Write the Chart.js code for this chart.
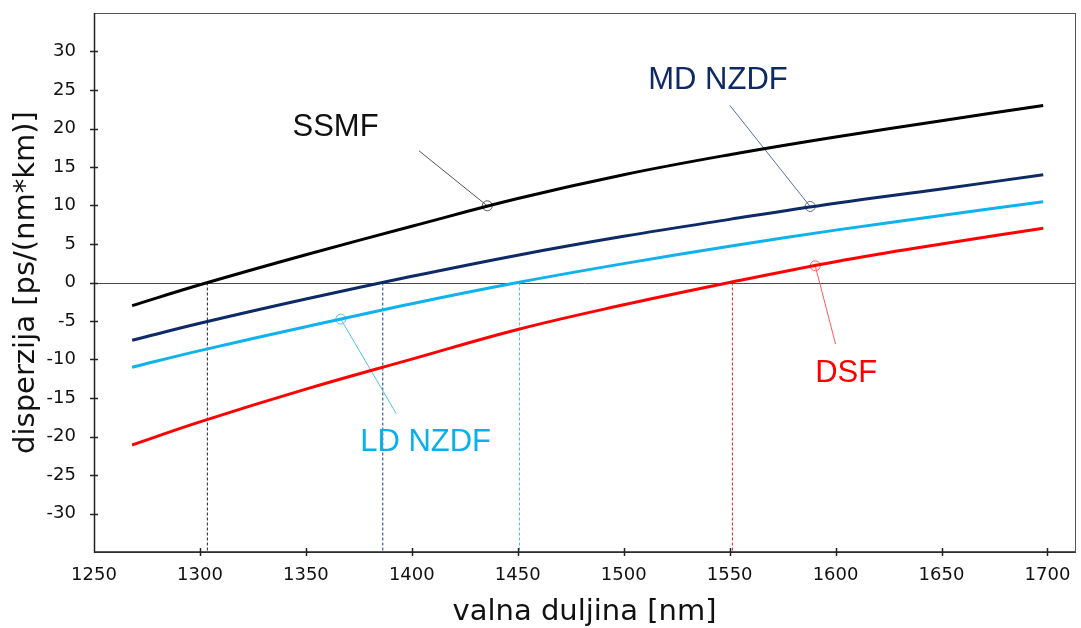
<!DOCTYPE html>
<html>
<head>
<meta charset="utf-8">
<script src="https://cdn.jsdelivr.net/npm/chart.js@4/dist/chart.umd.min.js"></script>
<style>
  html, body { margin: 0; padding: 0; background: #fff; }
  #wrap { width: 1081px; height: 628px; }
</style>
</head>
<body>
<div id="wrap"><canvas id="disp"></canvas></div>
<script>
// values (nm, ps/(nm*km))
const wavelength = [1268, 1300, 1350, 1400, 1450, 1500, 1550, 1600, 1650, 1698];
const ssmf   = [-3.0, -0.3, 3.6, 7.3, 10.9, 14.0, 16.6, 18.9, 21.0, 23.0];
const mdNzdf = [-7.5, -5.3, -2.15, 0.8, 3.55, 6.0, 8.2, 10.3, 12.15, 14.0];
const ldNzdf = [-11.0, -8.85, -5.75, -2.75, 0.0, 2.45, 4.7, 6.8, 8.7, 10.5];
const dsf    = [-21.1, -18.1, -13.85, -9.95, -6.1, -2.9, 0.0, 2.7, 5.0, 7.05];

const seriesNames = ["SSMF", "MD NZDF", "LD NZDF", "DSF"];
const zeroCross = [1303.5, 1386.3, 1450.8, 1551.3];

// marked points on each curve and where the callout labels sit
const markX = [1435.6, 1588, 1366.5, 1590.4];
const markY = [9.96, 9.87, -4.76, 2.17];
const leadX = [1403.4, 1550.1, 1392.7, 1600];
const leadY = [17.1, 23.0, -17.05, -8.0];
const labelX = [1364, 1544.5, 1406.5, 1605];
const labelY = [20.2, 26.3, -20.75, -11.8];

const xTicks = [1250, 1300, 1350, 1400, 1450, 1500, 1550, 1600, 1650, 1700];
const yTicks = [-30, -25, -20, -15, -10, -5, 0, 5, 10, 15, 20, 25, 30];

const lineColors = ["#000000", "#0d2a66", "#0fb2ec", "#ff0000"];
const textColors = ["#111111", "#0d2a66", "#0ab0ee", "#ff0000"];
const leaderColors = ["#555555", "#5a6d98", "#4cc3ef", "#ff5a5a"];
const dashColors = ["#222222", "#1a3a80", "#45c0f0", "#d82626"];

const curves = [ssmf, mdNzdf, ldNzdf, dsf];
const datasets = [];

curves.forEach((vals, i) => {
  datasets.push({
    label: seriesNames[i],
    data: wavelength.map((w, k) => ({ x: w, y: vals[k] })),
    borderColor: lineColors[i],
    borderWidth: 3,
    pointRadius: 0,
    tension: 0.4,
    order: 0
  });
});

// dashed drop lines from the zero crossings
zeroCross.forEach((w, i) => {
  datasets.push({
    data: [{ x: w, y: 0 }, { x: w, y: -35 }],
    borderColor: dashColors[i],
    borderWidth: 1,
    borderDash: [3, 2],
    pointRadius: 0,
    order: 2
  });
});

// callout leader lines and the open circles
markX.forEach((w, i) => {
  datasets.push({
    data: [{ x: leadX[i], y: leadY[i] }, { x: w, y: markY[i] }],
    borderColor: leaderColors[i],
    borderWidth: 1,
    pointRadius: [0, 5],
    pointBorderColor: leaderColors[i],
    pointBackgroundColor: "rgba(0,0,0,0)",
    pointBorderWidth: 1,
    order: 1
  });
});

const framePlugin = {
  id: "frame",
  beforeDatasetsDraw(chart) {
    const { ctx, chartArea: a, scales } = chart;
    const y0 = scales.y.getPixelForValue(0);
    ctx.save();
    ctx.strokeStyle = "#4a4a4a";
    ctx.lineWidth = 1;
    ctx.beginPath();
    ctx.moveTo(a.left, Math.round(y0) + 0.5);
    ctx.lineTo(a.right, Math.round(y0) + 0.5);
    ctx.stroke();
    ctx.restore();
  },
  afterDraw(chart) {
    const { ctx, chartArea: a, scales } = chart;
    ctx.save();
    ctx.strokeStyle = "#555";
    ctx.lineWidth = 1;
    ctx.strokeRect(Math.round(a.left) + 0.5, Math.round(a.top) + 0.5,
      Math.round(a.right - a.left), Math.round(a.bottom - a.top));
    ctx.strokeStyle = "#222";
    ctx.lineWidth = 1.5;
    ctx.beginPath();
    ctx.moveTo(a.left + 0.5, a.top);
    ctx.lineTo(a.left + 0.5, a.bottom);
    ctx.lineTo(a.right, a.bottom);
    ctx.stroke();
    yTicks.forEach(v => {
      const py = Math.round(scales.y.getPixelForValue(v)) + 0.5;
      ctx.beginPath();
      ctx.moveTo(a.left - 4, py);
      ctx.lineTo(a.left + 4, py);
      ctx.stroke();
    });
    xTicks.forEach(v => {
      if (v === xTicks[0]) return;
      const px = Math.round(scales.x.getPixelForValue(v)) + 0.5;
      ctx.beginPath();
      ctx.moveTo(px, a.bottom - 4);
      ctx.lineTo(px, a.bottom + 4);
      ctx.stroke();
    });
    // callout labels
    ctx.font = "31px 'Liberation Sans', Arial, sans-serif";
    ctx.textAlign = "center";
    ctx.textBaseline = "middle";
    seriesNames.forEach((name, i) => {
      ctx.fillStyle = textColors[i];
      ctx.fillText(name, scales.x.getPixelForValue(labelX[i]), scales.y.getPixelForValue(labelY[i]));
    });
    ctx.restore();
  }
};

const tickFont = { family: "'DejaVu Sans', sans-serif", size: 18 };
const titleFont = { family: "'DejaVu Sans', sans-serif", size: 29, lineHeight: 1 };

new Chart(document.getElementById("disp"), {
  type: "line",
  data: { datasets },
  options: {
    responsive: true,
    maintainAspectRatio: false,
    animation: false,
    layout: { padding: { top: 13, right: 3, left: 0, bottom: 0 } },
    plugins: {
      legend: { display: false },
      tooltip: { enabled: false }
    },
    scales: {
      x: {
        type: "linear",
        min: 1250,
        max: 1713,
        afterBuildTicks: s => { s.ticks = xTicks.map(v => ({ value: v })); },
        afterFit: s => { s.height = 76; s.paddingLeft = 0; s.paddingRight = 0; },
        grid: { display: false, drawTicks: false },
        border: { display: false },
        ticks: {
          padding: 13,
          color: "#111",
          font: tickFont,
          callback: v => String(v)
        },
        title: {
          display: true,
          text: "valna duljina [nm]",
          color: "#111",
          padding: { top: 0, bottom: 1 },
          font: titleFont
        }
      },
      y: {
        min: -35,
        max: 35,
        afterBuildTicks: s => { s.ticks = yTicks.map(v => ({ value: v })); },
        afterFit: s => { s.width = 94; s.paddingTop = 0; s.paddingBottom = 0; },
        grid: { display: false, drawTicks: false },
        border: { display: false },
        ticks: {
          padding: 18,
          color: "#111",
          font: tickFont,
          callback: v => String(v)
        },
        title: {
          display: true,
          text: "disperzija [ps/(nm*km)]",
          color: "#111",
          padding: { top: 12, bottom: 0 },
          font: titleFont
        }
      }
    }
  },
  plugins: [framePlugin]
});
</script>
</body>
</html>
